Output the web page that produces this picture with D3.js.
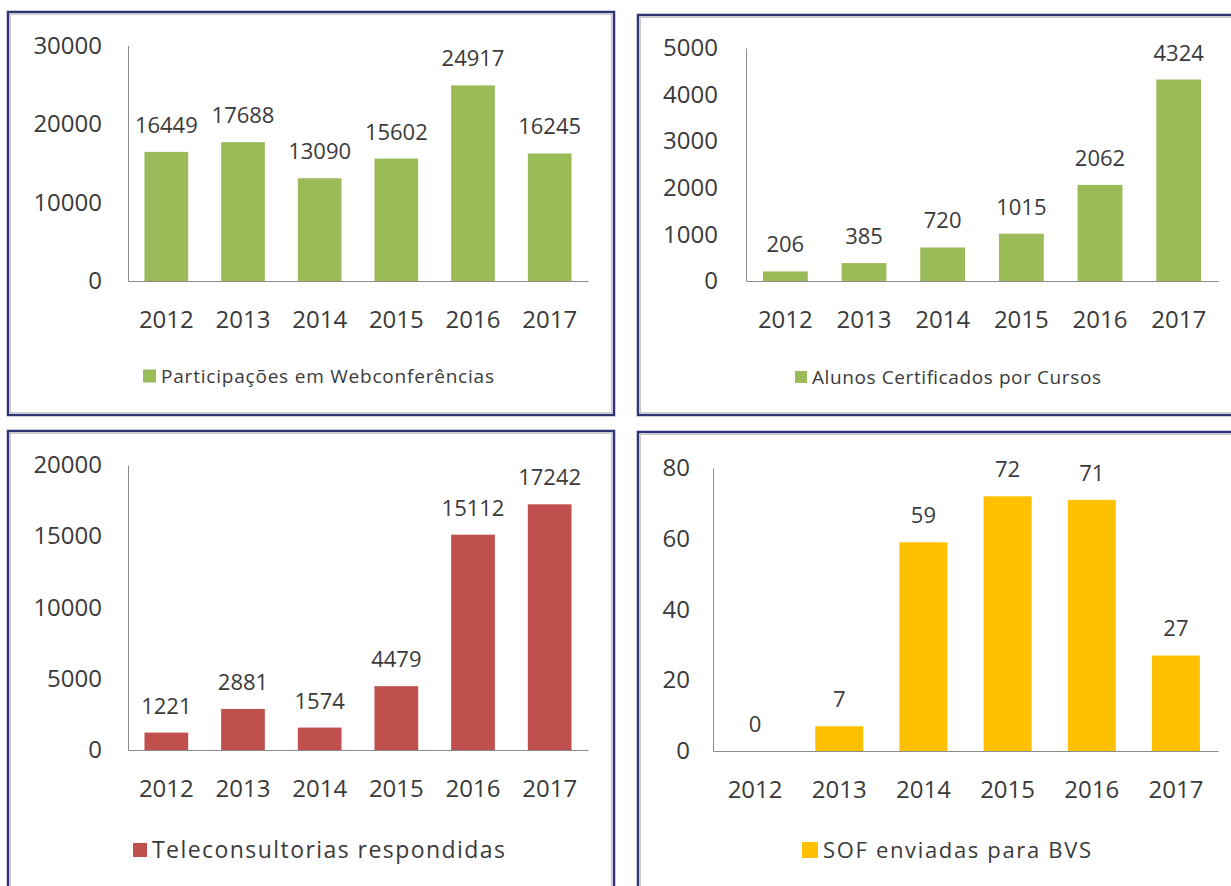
<!DOCTYPE html>
<html lang="pt">
<head>
<meta charset="UTF-8">
<title>Indicadores 2012-2017</title>
<script src="https://d3js.org/d3.v7.min.js"></script>
<style>
  body { margin: 0; background: #fff; }
  text { font-family: "Open Sans", "Noto Sans", sans-serif; fill: #3a3a3a; }
</style>
</head>
<body>
<div id="chart"></div>
<script>
const years = ["2012", "2013", "2014", "2015", "2016", "2017"];

const webconferencias = [16449, 17688, 13090, 15602, 24917, 16245];
const alunosCertificados = [206, 385, 720, 1015, 2062, 4324];
const teleconsultorias = [1221, 2881, 1574, 4479, 15112, 17242];
const sofEnviadas = [0, 7, 59, 72, 71, 27];

const ticksWeb = [0, 10000, 20000, 30000];
const ticksAlunos = [0, 1000, 2000, 3000, 4000, 5000];
const ticksTele = [0, 5000, 10000, 15000, 20000];
const ticksSof = [0, 20, 40, 60, 80];

const legendWeb = "Participações em Webconferências";
const legendAlunos = "Alunos Certificados por Cursos";
const legendTele = "Teleconsultorias respondidas";
const legendSof = "SOF enviadas para BVS";

const width = 1231, height = 886;

const svg = d3.select("#chart").append("svg")
  .attr("width", width)
  .attr("height", height);

// one entry per panel: data + where it sits on the page
const panels = [
  { values: webconferencias, ticks: ticksWeb, legend: legendWeb, color: "#9bbb59",
    frame: [8, 12, 606, 403], x0: 128, x1: 588, top: 45.5, base: 281,
    tickPad: 26, legendX: 143, legendY: 376, legendSize: 19, legendLen: 333, sq: 13 },
  { values: alunosCertificados, ticks: ticksAlunos, legend: legendAlunos, color: "#9bbb59",
    frame: [638, 15, 620, 400], x0: 746, x1: 1218, top: 48, base: 281,
    tickPad: 28, legendX: 795, legendY: 377, legendSize: 19, legendLen: 289, sq: 12 },
  { values: teleconsultorias, ticks: ticksTele, legend: legendTele, color: "#c0504d",
    frame: [8, 431, 606, 470], x0: 128, x1: 588, top: 465, base: 750,
    tickPad: 26, legendX: 133, legendY: 850, legendSize: 23, legendLen: 353, sq: 14 },
  { values: sofEnviadas, ticks: ticksSof, legend: legendSof, color: "#ffc000",
    frame: [638, 432, 620, 470], x0: 713, x1: 1218, top: 468, base: 751,
    tickPad: 23, legendX: 802, legendY: 850, legendSize: 22, legendLen: 268, sq: 16 }
];

panels.forEach(p => {
  const g = svg.append("g");

  // frame with faint shadow line inside
  g.append("rect")
    .attr("x", p.frame[0] + 2.5).attr("y", p.frame[1] + 2.5)
    .attr("width", p.frame[2] - 5).attr("height", p.frame[3] - 5)
    .attr("fill", "none").attr("stroke", "#c8c8c8").attr("stroke-width", 1);
  g.append("rect")
    .attr("x", p.frame[0]).attr("y", p.frame[1])
    .attr("width", p.frame[2]).attr("height", p.frame[3])
    .attr("fill", "none").attr("stroke", "#2e3572").attr("stroke-width", 2.5);

  const x = d3.scaleBand()
    .domain(years)
    .range([p.x0, p.x1])
    .paddingInner(0.43)
    .paddingOuter(0.215);

  const y = d3.scaleLinear()
    .domain([0, d3.max(p.ticks)])
    .range([p.base, p.top]);

  // bars
  g.selectAll(".bar")
    .data(p.values)
    .join("rect")
    .attr("x", (d, i) => x(years[i]))
    .attr("y", d => y(d))
    .attr("width", x.bandwidth())
    .attr("height", d => p.base - y(d))
    .attr("fill", p.color);

  // value labels
  g.selectAll(".val")
    .data(p.values)
    .join("text")
    .attr("x", (d, i) => x(years[i]) + x.bandwidth() / 2)
    .attr("y", d => y(d) - 19)
    .attr("text-anchor", "middle")
    .attr("font-size", "22px")
    .text(d => d);

  // y axis
  const yAxis = g.append("g")
    .attr("transform", `translate(${p.x0},0)`)
    .call(d3.axisLeft(y).tickValues(p.ticks).tickSize(0).tickSizeOuter(0)
      .tickPadding(p.tickPad).tickFormat(d3.format("d")));
  yAxis.select(".domain").attr("stroke", "#8c8c8c");
  yAxis.selectAll("text").attr("font-size", "24px").attr("fill", "#3a3a3a")
    .attr("font-family", "Open Sans");

  // x axis
  const xAxis = g.append("g")
    .attr("transform", `translate(0,${p.base})`)
    .call(d3.axisBottom(x).tickSize(0).tickSizeOuter(0).tickPadding(30));
  xAxis.select(".domain").attr("stroke", "#8c8c8c");
  xAxis.selectAll("text").attr("font-size", "24px").attr("fill", "#3a3a3a")
    .attr("font-family", "Open Sans");

  // legend
  g.append("rect")
    .attr("x", p.legendX).attr("y", p.legendY - p.sq / 2)
    .attr("width", p.sq).attr("height", p.sq)
    .attr("fill", p.color);
  g.append("text")
    .attr("x", p.legendX + p.sq + 5)
    .attr("y", p.legendY)
    .attr("dy", "0.35em")
    .attr("font-size", p.legendSize + "px")
    .attr("textLength", p.legendLen)
    .attr("lengthAdjust", "spacing")
    .text(p.legend);
});
</script>
</body>
</html>
